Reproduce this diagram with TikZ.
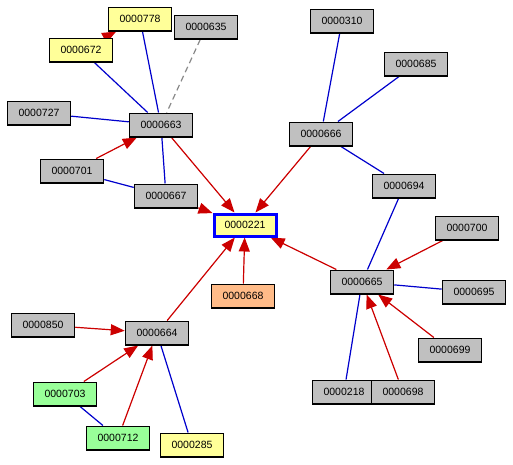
\documentclass[tikz,border=0pt]{standalone}
\usepackage{fontspec}
\setmainfont{Liberation Sans}
\usetikzlibrary{arrows.meta,backgrounds}
\definecolor{boxgray}{HTML}{C0C0C0}
\definecolor{boxyellow}{HTML}{FFFF99}
\definecolor{boxgreen}{HTML}{99FF99}
\definecolor{boxorange}{HTML}{FFBB88}
\definecolor{edgered}{HTML}{CC0000}
\definecolor{edgeblue}{HTML}{0000CC}
\definecolor{edgegray}{HTML}{888888}
\tikzset{
  box/.style={draw=black, line width=1.5pt, fill=boxgray, minimum width=63pt, minimum height=23.5pt, inner sep=0pt, font=\fontsize{10.5}{12}\selectfont},
  ybox/.style={box, fill=boxyellow},
  gbox/.style={box, fill=boxgreen},
  obox/.style={box, fill=boxorange},
  mainbox/.style={box, fill=boxyellow, draw=blue, line width=3pt, minimum width=62pt, minimum height=22pt},
  redarr/.style={draw=edgered, line width=1.2pt, -{Triangle[length=14pt,width=11pt]}, fill=edgered},
  blueln/.style={draw=edgeblue, line width=1.2pt},
  grayln/.style={draw=edgegray, line width=1.2pt, dash pattern=on 6pt off 4pt},
}
\begin{document}
\begin{tikzpicture}[x=1pt,y=1pt]
\useasboundingbox (0,0) rectangle (513,-464);
\node[ybox] (n778) at (140,-19) {0000778};
\node[box] (n635) at (206,-27) {0000635};
\node[ybox] (n672) at (81,-50) {0000672};
\node[box] (n727) at (39,-113) {0000727};
\node[box] (n663) at (161,-125) {0000663};
\node[box] (n701) at (72,-171) {0000701};
\node[box] (n667) at (166,-196) {0000667};
\node[mainbox] (n221) at (245,-225) {0000221};
\node[box] (n310) at (342,-21) {0000310};
\node[box] (n685) at (416,-64) {0000685};
\node[box] (n666) at (321,-134) {0000666};
\node[box] (n694) at (404,-186) {0000694};
\node[box] (n700) at (467,-228) {0000700};
\node[obox] (n668) at (243,-296) {0000668};
\node[box] (n850) at (43,-325) {0000850};
\node[box] (n664) at (157,-333) {0000664};
\node[gbox] (n703) at (65,-394) {0000703};
\node[gbox] (n712) at (118,-438) {0000712};
\node[ybox] (n285) at (192,-445) {0000285};
\node[box] (n665) at (362,-282) {0000665};
\node[box] (n695) at (474,-292) {0000695};
\node[box] (n699) at (450,-350) {0000699};
\node[box] (n218) at (344,-392) {0000218};
\node[box] (n698) at (403,-392) {0000698};
\begin{scope}[on background layer]
\draw[blueln] (n672) -- (n663);
\draw[blueln] (n778) -- (n663);
\draw[blueln] (n727) -- (n663);
\draw[blueln] (n663) -- (n667);
\draw[blueln] (n701) -- (n667);
\draw[blueln] (n310) -- (n666);
\draw[blueln] (n685) -- (n666);
\draw[blueln] (n666) -- (n694);
\draw[blueln] (n694) -- (n665);
\draw[blueln] (n665) -- (n695);
\draw[blueln] (n665) -- (n218);
\draw[blueln] (n703) -- (n712);
\draw[blueln] (n664) -- (n285);
\draw[grayln] (n635) -- (n663);
\draw[redarr] (n672) -- (n778);
\draw[redarr] (n701) -- (n663);
\draw[redarr] (n663) -- (n221);
\draw[redarr] (n667) -- (n221);
\draw[redarr] (n666) -- (n221);
\draw[redarr] (n665) -- (n221);
\draw[redarr] (n668) -- (n221);
\draw[redarr] (n664) -- (n221);
\draw[redarr] (n850) -- (n664);
\draw[redarr] (n703) -- (n664);
\draw[redarr] (n712) -- (n664);
\draw[redarr] (n700) -- (n665);
\draw[redarr] (n699) -- (n665);
\draw[redarr] (n698) -- (n665);
\end{scope}
\end{tikzpicture}
\end{document}
